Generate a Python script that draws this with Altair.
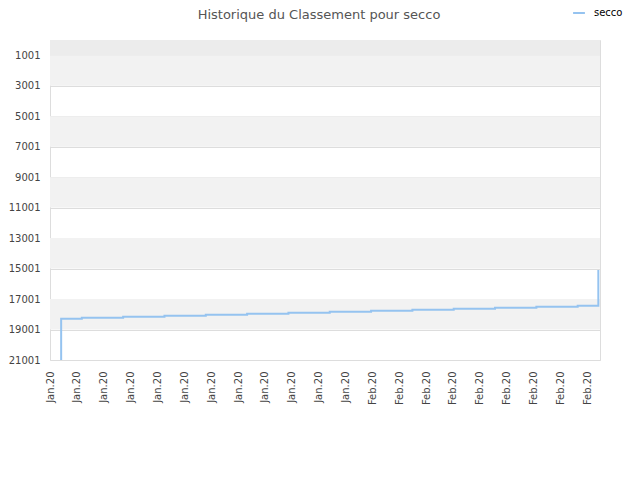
import altair as alt
import pandas as pd

# ---- data ----
title_text = "Historique du Classement pour secco"
series_name = "secco"
dates = ["2020-01-03", "2020-01-03", "2020-01-05", "2020-01-09", "2020-01-13",
         "2020-01-17", "2020-01-21", "2020-01-25", "2020-01-29", "2020-02-02",
         "2020-02-06", "2020-02-10", "2020-02-14", "2020-02-18", "2020-02-22",
         "2020-02-24"]
ranks = [21001, 18290, 18225, 18160, 18095, 18030, 17965, 17900, 17835, 17770,
         17705, 17640, 17575, 17505, 17440, 15100]
y_ticks = [1001, 3001, 5001, 7001, 9001, 11001, 13001, 15001, 17001, 19001, 21001]
band_top = [1, 1001, 5001, 9001, 13001, 17001]
band_bottom = [1001, 3001, 7001, 11001, 15001, 19001]
band_colors = ["#ececec", "#f2f2f2", "#f2f2f2", "#f2f2f2", "#f2f2f2", "#f2f2f2"]
x_start = "2020-01-01 22:05"
x_end = "2020-02-24 03:51"
n_x_labels = 21
x_label_step = "3744min"

line_color = "#95c3f0"
W, H = 550, 320


def ms(t):
    return int(pd.Timestamp(t, tz="UTC").value // 10**6)


x_tick_vals = [ms(t) for t in pd.date_range(x_start, periods=n_x_labels, freq=x_label_step)]

df = pd.DataFrame({"date": dates, "rank": ranks, "series": series_name,
                   "idx": list(range(len(dates)))})
bands = pd.DataFrame({"y0": band_top, "y1": band_bottom, "fill": band_colors})

y_scale = alt.Scale(domain=[1, 21001], reverse=True, nice=False, zero=False)
x_scale = alt.Scale(type="utc", domain=[ms(x_start), ms(x_end)], nice=False)

y_axis = alt.Axis(values=y_ticks, title=None, grid=True, gridColor="#dddddd",
                  domain=False, ticks=False, labelPadding=10, format="d",
                  labelFont="DejaVu Sans", labelFontSize=10, labelColor="#444444")
x_axis = alt.Axis(values=x_tick_vals, title=None, grid=False, domain=False,
                  ticks=False, labelAngle=270, labelPadding=11,
                  labelExpr="utcFormat(datum.value, '%b.%y')",
                  labelFlush=False, labelOverlap=False,
                  labelFont="DejaVu Sans", labelFontSize=10, labelColor="#444444")

band_layer = alt.Chart(bands).mark_rect().encode(
    x=alt.value(0), x2=alt.value(W),
    y=alt.Y("y0:Q", scale=y_scale, axis=y_axis),
    y2="y1:Q",
    fill=alt.Fill("fill:N", scale=None),
)

line_layer = alt.Chart(df).mark_line(interpolate="step-after", strokeWidth=2).encode(
    x=alt.X("date:T", scale=x_scale, axis=x_axis),
    y=alt.Y("rank:Q", scale=y_scale, axis=y_axis),
    color=alt.Color("series:N",
                    scale=alt.Scale(domain=[series_name], range=[line_color]),
                    legend=alt.Legend(title=None, orient="none", legendX=522, legendY=-34,
                                      symbolType="stroke", symbolStrokeWidth=2,
                                      symbolSize=140, padding=0, labelOffset=8,
                                      labelFont="DejaVu Sans", labelFontSize=10,
                                      labelColor="#000000")),
    order="idx:Q",
)

chart = alt.layer(band_layer, line_layer).properties(
    width=W, height=H,
    title=alt.Title(title_text, font="DejaVu Sans", fontSize=13, fontWeight="normal",
                    color="#555555", anchor="middle", dx=-6, offset=-16),
    autosize=alt.AutoSizeParams(type="none"),
    padding={"left": 42, "top": 32, "right": 32, "bottom": 100},
).configure_view(stroke="#d8d8d8").configure(background="white")

chart.save("out.html", embed_options={"renderer": "svg", "actions": False})
